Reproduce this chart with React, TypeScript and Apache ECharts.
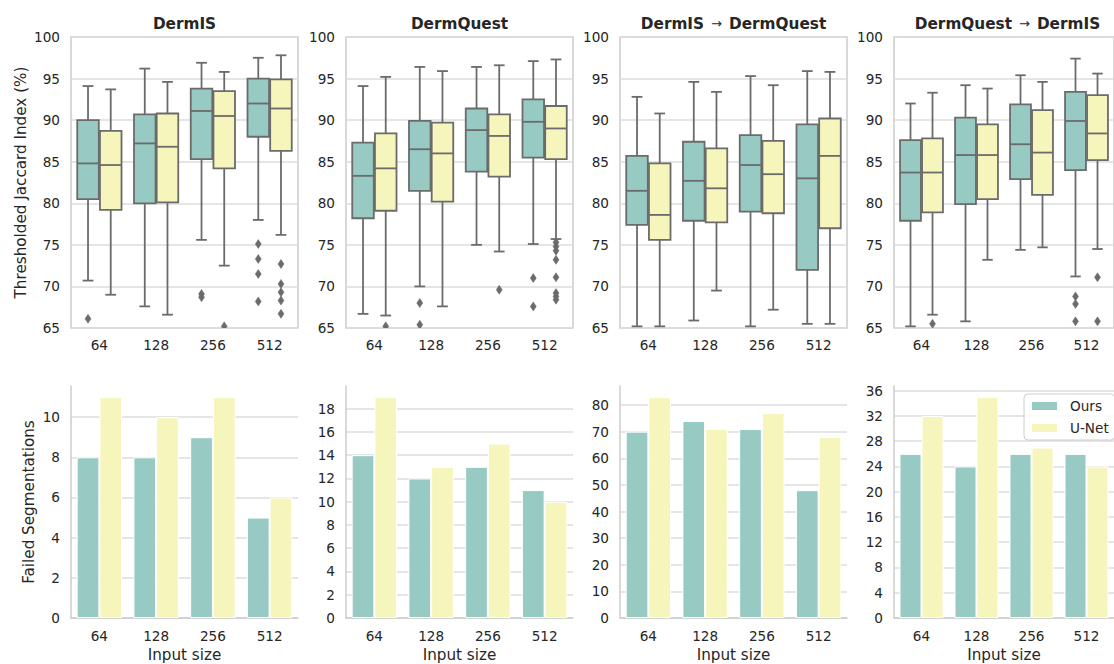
import React, { useEffect, useRef } from 'react';
import * as echarts from 'echarts';

const categories = ['64', '128', '256', '512'];
const panelTitles = [['DermIS'], ['DermQuest'], ['DermIS', 'DermQuest'], ['DermQuest', 'DermIS']];
const seriesNames = ['Ours', 'U-Net'];

// box stats per input size: [lower whisker, Q1, median, Q3, upper whisker]
const dermisOursBox = [
  [70.7, 80.5, 84.8, 90.0, 94.1],
  [67.6, 80.0, 87.2, 90.7, 96.2],
  [75.6, 85.3, 91.1, 93.8, 96.9],
  [78.0, 88.0, 92.0, 95.0, 97.5],
];
const dermisUnetBox = [
  [69.0, 79.2, 84.6, 88.7, 93.7],
  [66.6, 80.1, 86.8, 90.8, 94.6],
  [72.5, 84.2, 90.5, 93.5, 95.8],
  [76.2, 86.3, 91.4, 94.9, 97.8],
];
const dermisOursOut = [[0, 66.1], [2, 69.1], [2, 68.7], [3, 75.1], [3, 73.3], [3, 71.5], [3, 68.2]];
const dermisUnetOut = [[2, 65.2], [3, 72.7], [3, 70.3], [3, 69.3], [3, 68.3], [3, 66.7]];

const dermquestOursBox = [
  [66.7, 78.2, 83.3, 87.3, 94.1],
  [70.0, 81.5, 86.5, 89.9, 96.4],
  [75.0, 83.8, 88.8, 91.4, 96.4],
  [75.1, 85.5, 89.8, 92.5, 97.1],
];
const dermquestUnetBox = [
  [66.5, 79.1, 84.2, 88.4, 95.2],
  [67.6, 80.2, 86.0, 89.7, 95.9],
  [74.2, 83.2, 88.1, 90.7, 96.6],
  [75.7, 85.3, 89.0, 91.7, 97.3],
];
const dermquestOursOut = [[1, 68.0], [1, 65.4], [3, 71.0], [3, 67.6]];
const dermquestUnetOut = [[0, 65.2], [2, 69.6], [3, 75.3], [3, 74.8], [3, 74.3], [3, 73.2], [3, 71.1], [3, 69.2], [3, 68.8], [3, 68.4]];

const isToQuestOursBox = [
  [65.2, 77.4, 81.5, 85.7, 92.8],
  [65.9, 77.9, 82.7, 87.4, 94.6],
  [65.2, 79.0, 84.6, 88.2, 95.3],
  [65.5, 72.0, 83.0, 89.5, 95.9],
];
const isToQuestUnetBox = [
  [65.2, 75.6, 78.6, 84.8, 90.8],
  [69.5, 77.7, 81.8, 86.6, 93.4],
  [67.2, 78.8, 83.5, 87.5, 94.2],
  [65.5, 77.0, 85.7, 90.2, 95.8],
];
const isToQuestOursOut: number[][] = [];
const isToQuestUnetOut: number[][] = [];

const questToIsOursBox = [
  [65.2, 77.9, 83.7, 87.6, 92.0],
  [65.8, 79.9, 85.8, 90.3, 94.2],
  [74.4, 82.9, 87.1, 91.9, 95.4],
  [71.2, 84.0, 89.9, 93.4, 97.4],
];
const questToIsUnetBox = [
  [66.6, 78.9, 83.7, 87.8, 93.3],
  [73.2, 80.5, 85.8, 89.5, 93.8],
  [74.7, 81.0, 86.1, 91.2, 94.6],
  [74.5, 85.2, 88.4, 93.0, 95.6],
];
const questToIsOursOut = [[3, 68.8], [3, 67.9], [3, 65.8]];
const questToIsUnetOut = [[0, 65.5], [3, 71.1], [3, 65.8]];

// failed segmentations
const dermisOursFailed = [8, 8, 9, 5];
const dermisUnetFailed = [11, 10, 11, 6];
const dermquestOursFailed = [14, 12, 13, 11];
const dermquestUnetFailed = [19, 13, 15, 10];
const isToQuestOursFailed = [70, 74, 71, 48];
const isToQuestUnetFailed = [83, 71, 77, 68];
const questToIsOursFailed = [26, 24, 26, 26];
const questToIsUnetFailed = [32, 35, 27, 24];

const jaccardTicks = { min: 65, max: 100, interval: 5 };
const failedIntervals = [2, 2, 10, 4];

const boxPanels = [
  [dermisOursBox, dermisUnetBox],
  [dermquestOursBox, dermquestUnetBox],
  [isToQuestOursBox, isToQuestUnetBox],
  [questToIsOursBox, questToIsUnetBox],
];
const outlierPanels = [
  [dermisOursOut, dermisUnetOut],
  [dermquestOursOut, dermquestUnetOut],
  [isToQuestOursOut, isToQuestUnetOut],
  [questToIsOursOut, questToIsUnetOut],
];
const barPanels = [
  [dermisOursFailed, dermisUnetFailed],
  [dermquestOursFailed, dermquestUnetFailed],
  [isToQuestOursFailed, isToQuestUnetFailed],
  [questToIsOursFailed, questToIsUnetFailed],
];

const COLORS = ['#96cac2', '#f6f6bc'];
const EDGE = '#6b6b6b';
const TEXT = '#262626';
const SPINE = '#cccccc';
const GRIDLINE = '#dcdcdc';
const FONT = 'DejaVu Sans';

const LEFTS = [71, 346, 620, 894];
const PANEL_W = 227;
const TOP_Y = 37;
const TOP_H = 291;
const BOT_Y = 386;
const BOT_H = 232;

function boxRenderer(side: number, fill: string) {
  return (params: any, api: any) => {
    const i = api.value(0);
    const band = api.size([1, 0])[0];
    const base = api.coord([i, api.value(3)]);
    const cx = base[0] + side * 0.2 * band;
    const w = 0.4 * band * 0.95;
    const y = (k: number) => api.coord([i, api.value(k)])[1];
    const yMin = y(1), yQ1 = y(2), yMed = y(3), yQ3 = y(4), yMax = y(5);
    const ls = { stroke: EDGE, lineWidth: 1.8 };
    return {
      type: 'group',
      children: [
        { type: 'line', shape: { x1: cx, y1: yQ1, x2: cx, y2: yMin }, style: ls },
        { type: 'line', shape: { x1: cx, y1: yQ3, x2: cx, y2: yMax }, style: ls },
        { type: 'line', shape: { x1: cx - w / 4, y1: yMin, x2: cx + w / 4, y2: yMin }, style: ls },
        { type: 'line', shape: { x1: cx - w / 4, y1: yMax, x2: cx + w / 4, y2: yMax }, style: ls },
        {
          type: 'rect',
          shape: { x: cx - w / 2, y: yQ3, width: w, height: yQ1 - yQ3 },
          style: { fill, stroke: EDGE, lineWidth: 1.8 },
        },
        { type: 'line', shape: { x1: cx - w / 2, y1: yMed, x2: cx + w / 2, y2: yMed }, style: ls },
      ],
    };
  };
}

function outlierRenderer(side: number) {
  return (params: any, api: any) => {
    const i = api.value(0);
    const band = api.size([1, 0])[0];
    const p = api.coord([i, api.value(1)]);
    const cx = p[0] + side * 0.2 * band;
    const cy = p[1];
    const hw = 3, hh = 4.5;
    return {
      type: 'polygon',
      shape: { points: [[cx, cy - hh], [cx + hw, cy], [cx, cy + hh], [cx - hw, cy]] },
      style: { fill: EDGE, stroke: EDGE, lineWidth: 0.5 },
    };
  };
}

export default function App() {
  const ref = useRef<HTMLDivElement>(null);
  useEffect(() => {
    if (!ref.current) return;
    const chart = echarts.init(ref.current, null, { renderer: 'svg' });

    const grid: any[] = [];
    const xAxis: any[] = [];
    const yAxis: any[] = [];
    const series: any[] = [];
    const title: any[] = [];
    const tickLabel = { color: TEXT, fontSize: 13.6, fontFamily: FONT };

    for (let p = 0; p < 4; p++) {
      grid.push({
        left: LEFTS[p], top: TOP_Y, width: PANEL_W, height: TOP_H,
        show: true, borderColor: SPINE, borderWidth: 1.5, backgroundColor: 'transparent',
      });
      const parts = panelTitles[p];
      const text = parts.length === 1 ? `{b|${parts[0]}}` : `{b|${parts[0]}}{a|→}{b|${parts[1]}}`;
      title.push({
        text, left: LEFTS[p] + PANEL_W / 2, top: 16, textAlign: 'center', padding: 0,
        textStyle: {
          rich: {
            b: { fontSize: 15.3, fontWeight: 'bold', color: TEXT, fontFamily: FONT },
            a: { fontSize: 13, fontWeight: 'normal', color: TEXT, fontFamily: FONT, padding: [0, 7, 0, 7] },
          },
        },
      });
    }
    for (let p = 0; p < 4; p++) {
      grid.push({ left: LEFTS[p], top: BOT_Y, width: PANEL_W, height: BOT_H, show: false });
    }

    for (let p = 0; p < 4; p++) {
      xAxis.push({
        type: 'category', gridIndex: p, data: categories,
        axisLine: { show: false }, axisTick: { show: false },
        axisLabel: { ...tickLabel, margin: 10 },
        splitLine: { show: false },
      });
      yAxis.push({
        type: 'value', gridIndex: p, ...jaccardTicks,
        axisLine: { show: false }, axisTick: { show: false },
        axisLabel: { ...tickLabel, margin: 11 },
        splitLine: { show: true, lineStyle: { color: GRIDLINE, width: 1.5 } },
        name: p === 0 ? 'Thresholded Jaccard Index (%)' : '',
        nameLocation: 'middle', nameGap: 43,
        nameTextStyle: { color: TEXT, fontSize: 15.2, fontFamily: FONT },
      });
      for (let s = 0; s < 2; s++) {
        const side = s === 0 ? -1 : 1;
        series.push({
          type: 'custom', name: seriesNames[s] + ' box', xAxisIndex: p, yAxisIndex: p, clip: true,
          data: boxPanels[p][s].map((b, i) => [i, ...b]),
          encode: { x: 0, y: [1, 2, 3, 4, 5] },
          renderItem: boxRenderer(side, COLORS[s]),
        });
        series.push({
          type: 'custom', name: seriesNames[s] + ' outliers', xAxisIndex: p, yAxisIndex: p, clip: true,
          data: outlierPanels[p][s],
          encode: { x: 0, y: 1 },
          renderItem: outlierRenderer(side),
        });
      }
    }

    for (let p = 0; p < 4; p++) {
      const idx = p + 4;
      const maxVal = Math.max(...barPanels[p][0], ...barPanels[p][1]) * 1.05;
      xAxis.push({
        type: 'category', gridIndex: idx, data: categories,
        axisLine: { show: true, lineStyle: { color: SPINE, width: 1.5 } },
        axisTick: { show: false },
        axisLabel: { ...tickLabel, margin: 11 },
        name: 'Input size', nameLocation: 'middle', nameGap: 29,
        nameTextStyle: { color: TEXT, fontSize: 15.2, fontFamily: FONT },
      });
      yAxis.push({
        type: 'value', gridIndex: idx, min: 0, max: maxVal, interval: failedIntervals[p],
        axisLine: { show: true, lineStyle: { color: SPINE, width: 1.5 } },
        axisTick: { show: false },
        axisLabel: { ...tickLabel, margin: 11, showMaxLabel: false },
        splitLine: { show: true, showMaxLine: false, lineStyle: { color: GRIDLINE, width: 1.5 } },
        name: p === 0 ? 'Failed Segmentations' : '',
        nameLocation: 'middle', nameGap: 35,
        nameTextStyle: { color: TEXT, fontSize: 15.2, fontFamily: FONT },
      });
      for (let s = 0; s < 2; s++) {
        series.push({
          type: 'bar', name: seriesNames[s], xAxisIndex: idx, yAxisIndex: idx,
          data: barPanels[p][s], barWidth: '40%', barGap: '0%',
          itemStyle: { color: COLORS[s], borderColor: '#ffffff', borderWidth: 1 },
        });
      }
    }

    chart.setOption({
      animation: false,
      backgroundColor: '#ffffff',
      textStyle: { fontFamily: FONT, color: TEXT },
      title,
      grid,
      xAxis,
      yAxis,
      series,
      legend: {
        data: seriesNames,
        orient: 'vertical',
        left: 1024, top: 394,
        itemWidth: 27, itemHeight: 10, itemGap: 8,
        padding: [5, 6, 5, 6],
        icon: 'rect',
        borderColor: SPINE, borderWidth: 1, borderRadius: 4,
        backgroundColor: 'rgba(255,255,255,0.85)',
        textStyle: { color: TEXT, fontSize: 13.6, fontFamily: FONT, padding: [0, 0, 0, 7] },
      },
    });
    return () => chart.dispose();
  }, []);
  return (
    <div
      ref={ref}
      style={{ position: 'fixed', left: 0, top: 0, width: 1114, height: 664 }}
    />
  );
}
